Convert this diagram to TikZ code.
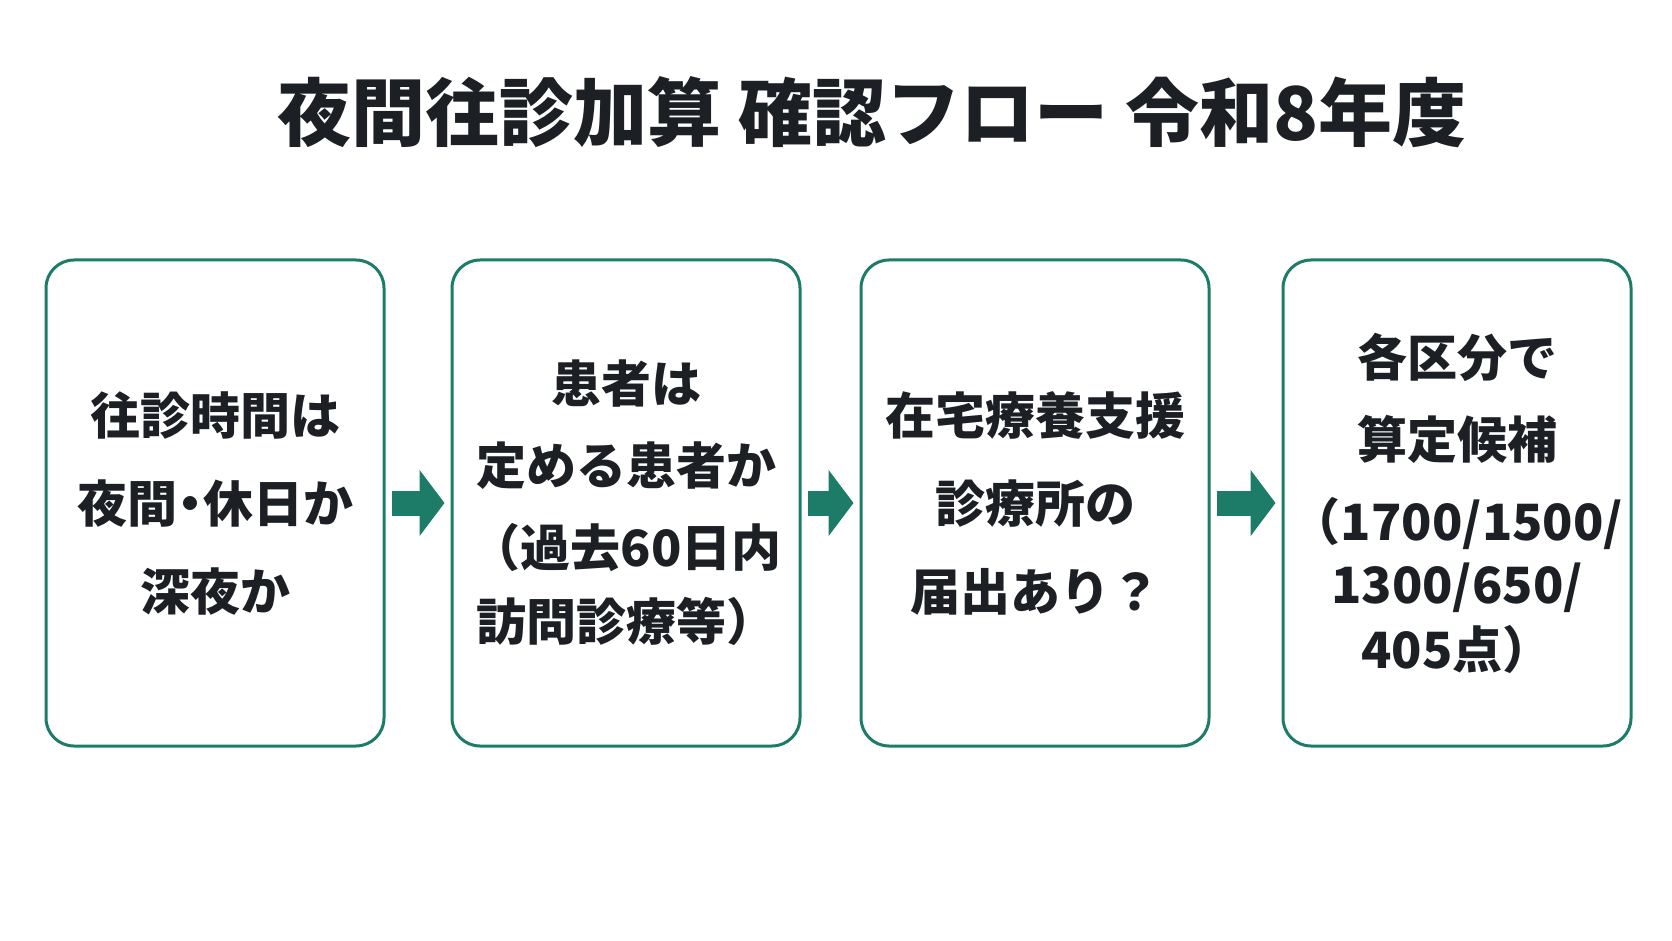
\documentclass[tikz,border=0pt]{standalone}
\usepackage{fontspec}
\setmainfont{Noto Sans CJK JP}
\usepackage{tikz}
\usetikzlibrary{arrows.meta, positioning}
\definecolor{flowgreen}{RGB}{28,124,104}
\definecolor{inkdark}{RGB}{28,32,37}

\begin{document}
\begin{tikzpicture}[x=1pt, y=-1pt, node distance=65pt,
  stepbox/.style={draw=flowgreen, line width=3pt, rounded corners=28pt,
    minimum width=348pt, minimum height=486pt, align=center, text=inkdark,
    font=\fontsize{50}{88}\selectfont\bfseries},
  flow/.style={draw=flowgreen, line width=25pt,
    -{Triangle[length=25pt,width=65pt]}, shorten <=6pt, shorten >=6pt}]
  \useasboundingbox (0,0) rectangle (1672,941);

  \node[text=inkdark, font=\fontsize{74}{80}\selectfont\bfseries] (title) at (872,112)
    {夜間往診加算 確認フロー 令和8年度};

  \node[stepbox, minimum width=338pt] (s1) at (215,503)
    {往診時間は\\夜間\kern-12pt・\kern-12pt休日か\\深夜か};
  \node[stepbox, right=of s1, font=\fontsize{50}{82}\selectfont\bfseries] (s2)
    {患者は\\定める患者か\\（過去60日内\\[-8pt]訪問診療等）};
  \node[stepbox, right=58pt of s2] (s3) {在宅療養支援\\診療所の\\届出あり？};
  \node[stepbox, right=71pt of s3, font=\fontsize{50}{82}\selectfont\bfseries] (s4)
    {各区分で\\算定候補\\（1700/1500/\\[-19pt]1300/650/\\[-17pt]405点）};

  \draw[flow] (s1) -- (s2);
  \draw[flow] (s2) -- (s3);
  \draw[flow] (s3) -- (s4);
\end{tikzpicture}
\end{document}
